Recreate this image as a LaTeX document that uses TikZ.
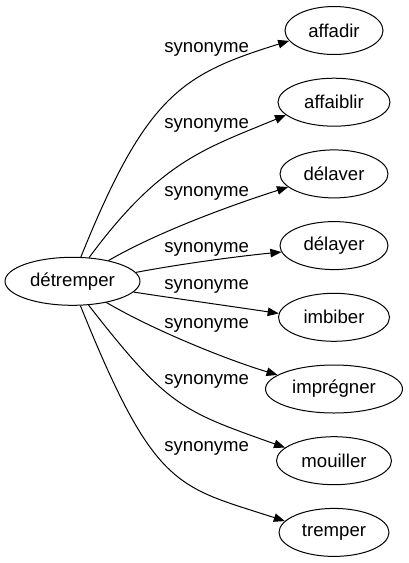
\documentclass[tikz,border=0pt]{standalone}
\usepackage{fontspec}
\setmainfont{Liberation Sans}
\usetikzlibrary{shapes.geometric,arrows.meta}
\begin{document}
\begin{tikzpicture}[x=1pt,y=-1pt,
  every node/.style={font=\fontsize{18.6}{20}\selectfont},
  term/.style={ellipse,draw,line width=1pt,inner sep=0pt,minimum height=48pt},
  rel/.style={line width=1pt,-{Triangle[length=11pt,width=8.5pt]}},
  lbl/.style={inner sep=0pt}]
\useasboundingbox (0,0) rectangle (408,563);
\node[term,minimum width=135pt] (src) at (72.5,281.3) {détremper};
\node[term,minimum width=98pt]  (t1) at (334,30.5)  {affadir};
\node[term,minimum width=112pt] (t2) at (334,102.2) {affaiblir};
\node[term,minimum width=108pt] (t3) at (334,173.9) {délaver};
\node[term,minimum width=108pt] (t4) at (334,245.6) {délayer};
\node[term,minimum width=111pt] (t5) at (334,317.3) {imbiber};
\node[term,minimum width=137pt] (t6) at (334,389)   {imprégner};
\node[term,minimum width=115pt] (t7) at (334,460.7) {mouiller};
\node[term,minimum width=110pt] (t8) at (334,532.4) {tremper};

\draw[rel] (src.71.6) .. controls (146.3,94.8) and (181.8,74.2) .. (t1.193);
\draw[rel] (src.55.7) .. controls (160.5,160.8) and (204.9,148.8) .. (t2.195.6);
\draw[rel] (src.30.1) .. controls (161.3,230) and (239.2,202.6) .. (t3.196.6);
\draw[rel] (src.8.4) .. controls (180,264) and (240,256) .. (t4.187.7);
\draw[rel] (src.-10.3) .. controls (170,297.7) and (240,307.6) .. (t5.176);
\draw[rel] (src.-32.7) .. controls (155,331) and (228.9,360.4) .. (t6.166);
\draw[rel] (src.-56.3) .. controls (168.4,407.4) and (181.6,410.7) .. (t7.165.8);
\draw[rel] (src.-72.4) .. controls (154.9,490.4) and (177.1,486) .. (t8.167);

\node[lbl] (l1) at (206.7,49.3)  {synonyme};
\node[lbl] (l2) at (206.7,125)   {synonyme};
\node[lbl] (l3) at (206.7,193.8) {synonyme};
\node[lbl] (l4) at (206.7,249.7) {synonyme};
\node[lbl] (l5) at (206.7,286.7) {synonyme};
\node[lbl] (l6) at (206.7,325.5) {synonyme};
\node[lbl] (l7) at (206.7,381.3) {synonyme};
\node[lbl] (l8) at (206.7,448.8) {synonyme};
\end{tikzpicture}
\end{document}
